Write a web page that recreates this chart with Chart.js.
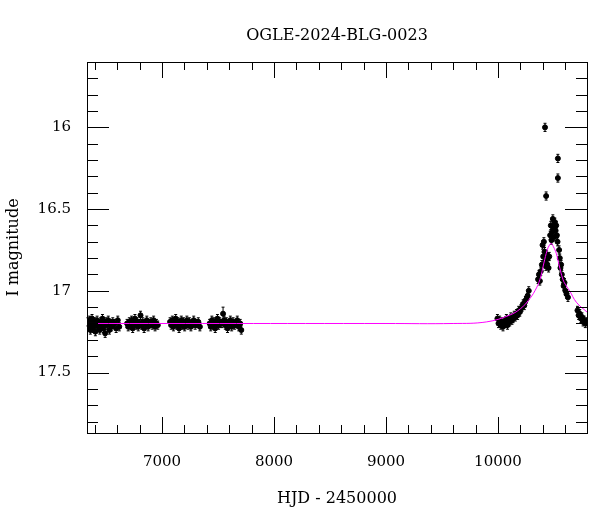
<!DOCTYPE html>
<html>
<head>
<meta charset="utf-8">
<script src="https://cdn.jsdelivr.net/npm/chart.js@4"></script>
<style>
body{margin:0;background:#fff}
#wrap{width:600px;height:512px}
</style>
</head>
<body>
<div id="wrap"><canvas id="lc" width="600" height="512"></canvas></div>
<script>

// ===============================
// DATA (HJD - 2450000, I mag, error)
// ===============================

const hjd1 = [6338,6345,6352,6360,6368,6375,6383,6390,6398,6405,6413,6420,6428,6436,6444,6452,6460,6468,6476,6484,6492,6500,6510,6520,6530,6540,6550,6560,6575,6590,6605,6618]
const mag1 = [17.19,17.22,17.18,17.24,17.2,17.17,17.23,17.21,17.19,17.25,17.2,17.18,17.22,17.2,17.24,17.19,17.21,17.17,17.23,17.2,17.26,17.19,17.21,17.18,17.24,17.2,17.22,17.19,17.2,17.23,17.18,17.22]

const hjd2 = [6688,6698,6708,6718,6728,6738,6748,6758,6768,6778,6788,6798,6808,6818,6828,6840,6852,6864,6876,6888,6900,6912,6925,6938,6950,6962]
const mag2 = [17.2,17.22,17.19,17.21,17.18,17.23,17.2,17.17,17.21,17.19,17.22,17.2,17.15,17.21,17.19,17.23,17.2,17.18,17.22,17.2,17.19,17.21,17.18,17.22,17.2,17.21]

const hjd3 = [7072,7082,7092,7102,7112,7122,7132,7142,7152,7162,7172,7182,7192,7202,7212,7222,7232,7245,7258,7270,7283,7296,7310,7324,7338]
const mag3 = [17.19,17.21,17.18,17.22,17.2,17.17,17.21,17.19,17.23,17.2,17.18,17.21,17.19,17.22,17.2,17.18,17.21,17.19,17.22,17.2,17.18,17.21,17.2,17.19,17.22]

const hjd4 = [7425,7435,7445,7455,7465,7475,7485,7495,7505,7515,7525,7535,7545,7555,7565,7575,7585,7597,7610,7622,7635,7648,7660,7672,7685,7698,7708]
const mag4 = [17.2,17.22,17.18,17.21,17.19,17.23,17.2,17.17,17.21,17.19,17.2,17.2,17.14,17.18,17.21,17.19,17.23,17.2,17.18,17.22,17.19,17.21,17.2,17.18,17.22,17.2,17.24]

const hjd5 = [9995,10005,10015,10025,10035,10045,10055,10065,10075,10085,10095,10105,10115,10125,10135,10145,10155,10165,10175,10185,10195,10205,10215,10225,10235,10245,10255,10265,10275,
10358,10366,10374,10382,10392,10398,10404,10410,10416,10422,10428,10434,10440,10446,10452,10458,10466,10472,10478,10484,10490,10496,10502,10508,10514,10520,10526,10532,
10546,10552,10558,10564,10570,10578,10586,10594,10602,10612,10625,
10420,10430,10535,10535,
10710,10720,10730,10740,10750,10760,10770,10780,10790]
const mag5 = [17.17,17.2,17.18,17.21,17.19,17.22,17.19,17.2,17.17,17.21,17.18,17.19,17.16,17.18,17.17,17.15,17.16,17.14,17.15,17.12,17.13,17.11,17.1,17.08,17.09,17.06,17.05,17.03,17.0,
16.93,16.9,16.94,16.88,16.84,16.72,16.79,16.7,16.76,16.82,16.85,16.78,16.84,16.8,16.86,16.79,16.66,16.6,16.69,16.64,16.56,16.62,16.67,16.58,16.63,16.6,16.66,16.7,
16.75,16.8,16.86,16.84,16.9,16.93,16.97,16.95,17.0,17.02,17.04,
16.0,16.42,16.19,16.31,
17.12,17.15,17.14,17.17,17.16,17.19,17.18,17.2,17.19]

// model curve
const modelHjd = [6330,9000,9600,9900,10100,10200,10270,10330,10375,10410,10440,10460,10475,10495,10520,10545,10580,10610,10640,10700,10795]
const modelMag = [17.2,17.2,17.2,17.19,17.15,17.11,17.06,17.0,16.93,16.83,16.75,16.72,16.71,16.73,16.77,16.84,16.93,16.97,17.0,17.07,17.13]

const xTicks = [7000,8000,9000,10000]
const yTicks = [16,16.5,17,17.5]

// ===============================
// BUILD POINTS
// ===============================

const allHjd = [...hjd1,...hjd2,...hjd3,...hjd4,...hjd5]
const allMag = [...mag1,...mag2,...mag3,...mag4,...mag5]

const points = allHjd.map((t,i)=>({x:t,y:allMag[i],e:(t===7545?0.04:0.025)}))
const model = modelHjd.map((t,i)=>({x:t,y:modelMag[i]}))

const serif = "'DejaVu Serif', 'Liberation Serif', serif"

// error bars + inward ticks on all four sides + title
const framePlugin = {
id:"frame",
beforeDatasetsDraw(chart){
const {ctx,scales:{x,y}} = chart
ctx.save()
ctx.strokeStyle = "#000"
ctx.lineWidth = 1
chart.data.datasets[1].data.forEach(p=>{
const px = x.getPixelForValue(p.x)
const y1 = y.getPixelForValue(p.y-p.e)
const y2 = y.getPixelForValue(p.y+p.e)
ctx.beginPath()
ctx.moveTo(px,y1);ctx.lineTo(px,y2)
ctx.moveTo(px-1.5,y1);ctx.lineTo(px+1.5,y1)
ctx.moveTo(px-1.5,y2);ctx.lineTo(px+1.5,y2)
ctx.stroke()
})
ctx.restore()
},
afterDraw(chart){
const {ctx,chartArea:a,scales:{x,y}} = chart
ctx.save()
ctx.strokeStyle = "#000"
ctx.lineWidth = 1
ctx.strokeRect(a.left+0.5,a.top+0.5,a.right-a.left,a.bottom-a.top)
ctx.beginPath()
for(let v=6400;v<=10800;v+=200){
const px = Math.round(x.getPixelForValue(v))+0.5
if(px<a.left||px>a.right) continue
const len = (v%1000===0)?16:8
ctx.moveTo(px,a.bottom);ctx.lineTo(px,a.bottom-len)
ctx.moveTo(px,a.top);ctx.lineTo(px,a.top+len)
}
for(let k=157;k<=187;k++){
const v = k/10
const py = Math.round(y.getPixelForValue(v))+0.5
if(py<a.top||py>a.bottom) continue
const len = (k%5===0)?22:11
ctx.moveTo(a.left,py);ctx.lineTo(a.left+len,py)
ctx.moveTo(a.right,py);ctx.lineTo(a.right-len,py)
}
ctx.stroke()
ctx.fillStyle = "#000"
ctx.font = "16px "+serif
ctx.textAlign = "center"
ctx.fillText("OGLE-2024-BLG-0023",(a.left+a.right)/2,40)
ctx.restore()
}
}

new Chart(document.getElementById("lc"),{
type:"scatter",
data:{
datasets:[
{
type:"line",
data:model,
borderColor:"#ff00ff",
borderWidth:1,
pointRadius:0,
tension:0.4,
order:0
},
{
data:points,
backgroundColor:"#000",
borderColor:"#000",
pointRadius:2.5,
order:1
}
]
},
options:{
responsive:false,
animation:false,
layout:{padding:{top:62,right:13,left:0,bottom:0}},
plugins:{legend:{display:false},tooltip:{enabled:false}},
scales:{
x:{
type:"linear",
min:6330,max:10795,
afterBuildTicks(s){s.ticks = xTicks.map(v=>({value:v}))},
afterFit(s){s.height = 79},
grid:{display:false},
border:{display:false},
ticks:{color:"#000",padding:12,font:{family:serif,size:15},callback:v=>String(v)},
title:{display:true,text:"HJD - 2450000",color:"#000",font:{family:serif,size:16},padding:{top:2}}
},
y:{
reverse:true,
min:15.6,max:17.87,
afterBuildTicks(s){s.ticks = yTicks.map(v=>({value:v}))},
afterFit(s){s.width = 87},
grid:{display:false},
border:{display:false},
ticks:{color:"#000",padding:8,font:{family:serif,size:15},callback:v=>String(v)},
title:{display:true,text:"I magnitude",color:"#000",font:{family:serif,size:16},padding:{bottom:6}}
}
}
},
plugins:[framePlugin]
})
</script>
</body>
</html>
